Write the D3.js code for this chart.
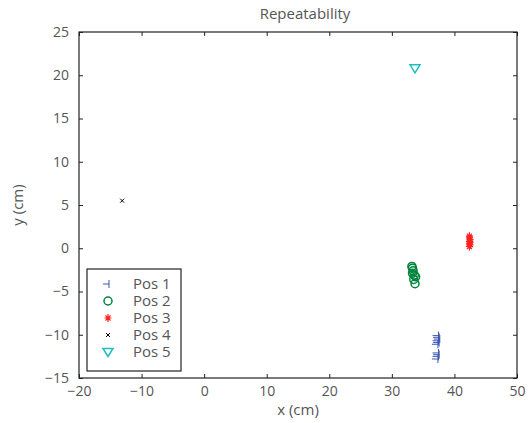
<!DOCTYPE html>
<html lang="en">
<head>
    <meta charset="UTF-8">
    <script src="https://cdn.jsdelivr.net/npm/d3@7/dist/d3.min.js"></script>
    <title>Repeatability</title>
    <style>
        body { margin: 0; background: #fff; overflow: hidden; }
        #mainsvg { display: block; }
        text { font-family: 'Open Sans', sans-serif; fill: #555; }
    </style>
</head>
<body>
    <svg id="mainsvg" width="528" height="423"></svg>
    <script>
        const seriesNames = ['Pos 1', 'Pos 2', 'Pos 3', 'Pos 4', 'Pos 5']
        const pos1X = [37.3, 37.4, 37.5, 37.3, 37.4, 37.2, 37.3, 37.4, 37.3, 37.2]
        const pos1Y = [-10.1, -10.3, -10.5, -10.7, -10.9, -11.1, -12.1, -12.3, -12.5, -12.8]
        const pos2X = [33.2, 33.3, 33.4, 33.3, 33.6, 33.8, 33.5, 33.7]
        const pos2Y = [-2.1, -2.3, -2.6, -2.9, -3.1, -3.3, -3.6, -4.1]
        const pos3X = [42.4, 42.4, 42.5, 42.4, 42.5, 42.4, 42.5, 42.4]
        const pos3Y = [1.4, 1.2, 1.0, 0.8, 0.7, 0.5, 0.4, 0.2]
        const pos4X = [-13.1]
        const pos4Y = [5.5]
        const pos5X = [33.7]
        const pos5Y = [20.8]
        const xTicks = [-20, -10, 0, 10, 20, 30, 40, 50]
        const yTicks = [-15, -10, -5, 0, 5, 10, 15, 20, 25]

        const colors = ['#3a56b0', '#00843d', '#ff2020', '#000000', '#1fbfbf']

        const svg = d3.select('#mainsvg')
        const margin = { top: 32, right: 11, bottom: 45, left: 79 }
        const width = +svg.attr('width')
        const height = +svg.attr('height')
        const innerWidth = width - margin.left - margin.right
        const innerHeight = height - margin.top - margin.bottom

        const xScale = d3.scaleLinear().domain([-20, 50]).range([0, innerWidth])
        const yScale = d3.scaleLinear().domain([-15, 25]).range([innerHeight, 0])

        const g = svg.append('g')
            .attr('transform', `translate(${margin.left},${margin.top})`)

        const minus = d => d < 0 ? '\u2212' + Math.abs(d) : d
        // axes, ticks inside on all four sides
        g.append('g').attr('transform', `translate(0,${innerHeight})`)
            .call(d3.axisBottom(xScale).tickValues(xTicks).tickSize(-4).tickPadding(8).tickFormat(minus))
        g.append('g')
            .call(d3.axisLeft(yScale).tickValues(yTicks).tickSize(-4).tickPadding(10).tickFormat(minus))
        g.append('g').call(d3.axisTop(xScale).tickValues(xTicks).tickSize(-4).tickFormat(''))
        g.append('g').attr('transform', `translate(${innerWidth},0)`)
            .call(d3.axisRight(yScale).tickValues(yTicks).tickSize(-4).tickFormat(''))
        g.selectAll('.domain').remove()
        g.selectAll('.tick line').attr('stroke', '#222')
        g.selectAll('.tick text').attr('font-size', 14).attr('fill', '#555')

        g.append('rect')
            .attr('width', innerWidth).attr('height', innerHeight)
            .attr('fill', 'none').attr('stroke', '#222').attr('stroke-width', 1.2)

        // markers
        const markers = [
            sel => sel.append('path').attr('d', 'M-5,0H1M1,-4V4').attr('fill', 'none'),
            sel => sel.append('circle').attr('r', 4).attr('fill', 'none'),
            sel => sel.append('path').attr('d', 'M-3.5,0H3.5M0,-4V4M-2.5,-2.5L2.5,2.5M-2.5,2.5L2.5,-2.5').attr('fill', 'none'),
            sel => sel.append('path').attr('d', 'M-2,-2L2,2M-2,2L2,-2').attr('fill', 'none'),
            sel => sel.append('path').attr('d', 'M-5,-3.5H5L0,4.5Z').attr('fill', 'none')
        ]
        const strokeW = [1, 1.5, 1.2, 1, 1.5]

        const series = [[pos1X, pos1Y], [pos2X, pos2Y], [pos3X, pos3Y], [pos4X, pos4Y], [pos5X, pos5Y]]
        series.forEach(([xs, ys], i) => {
            xs.forEach((x, j) => {
                const m = g.append('g')
                    .attr('transform', `translate(${xScale(x)},${yScale(ys[j])})`)
                    .attr('stroke', colors[i]).attr('stroke-width', strokeW[i])
                markers[i](m)
            })
        })

        // legend
        const legend = g.append('g').attr('transform', 'translate(8,237)')
        legend.append('rect').attr('width', 94).attr('height', 102)
            .attr('fill', '#fff').attr('stroke', '#222').attr('stroke-width', 1.2)
        seriesNames.forEach((name, i) => {
            const row = legend.append('g').attr('transform', `translate(0,${15 + i * 17})`)
            const m = row.append('g').attr('transform', 'translate(21,0)')
                .attr('stroke', colors[i]).attr('stroke-width', strokeW[i])
            markers[i](m)
            row.append('text').text(name).attr('x', 46).attr('y', 5)
                .attr('font-size', 15)
        })

        svg.append('text').text('Repeatability')
            .attr('x', margin.left + innerWidth / 2 + 7).attr('y', 19)
            .attr('text-anchor', 'middle').attr('font-size', 15)
        svg.append('text').text('x (cm)')
            .attr('x', margin.left + innerWidth / 2).attr('y', 415)
            .attr('text-anchor', 'middle').attr('font-size', 15)
        svg.append('text').text('y (cm)')
            .attr('transform', `translate(23,${margin.top + innerHeight / 2}) rotate(-90)`)
            .attr('text-anchor', 'middle').attr('font-size', 15)
    </script>
</body>
</html>
